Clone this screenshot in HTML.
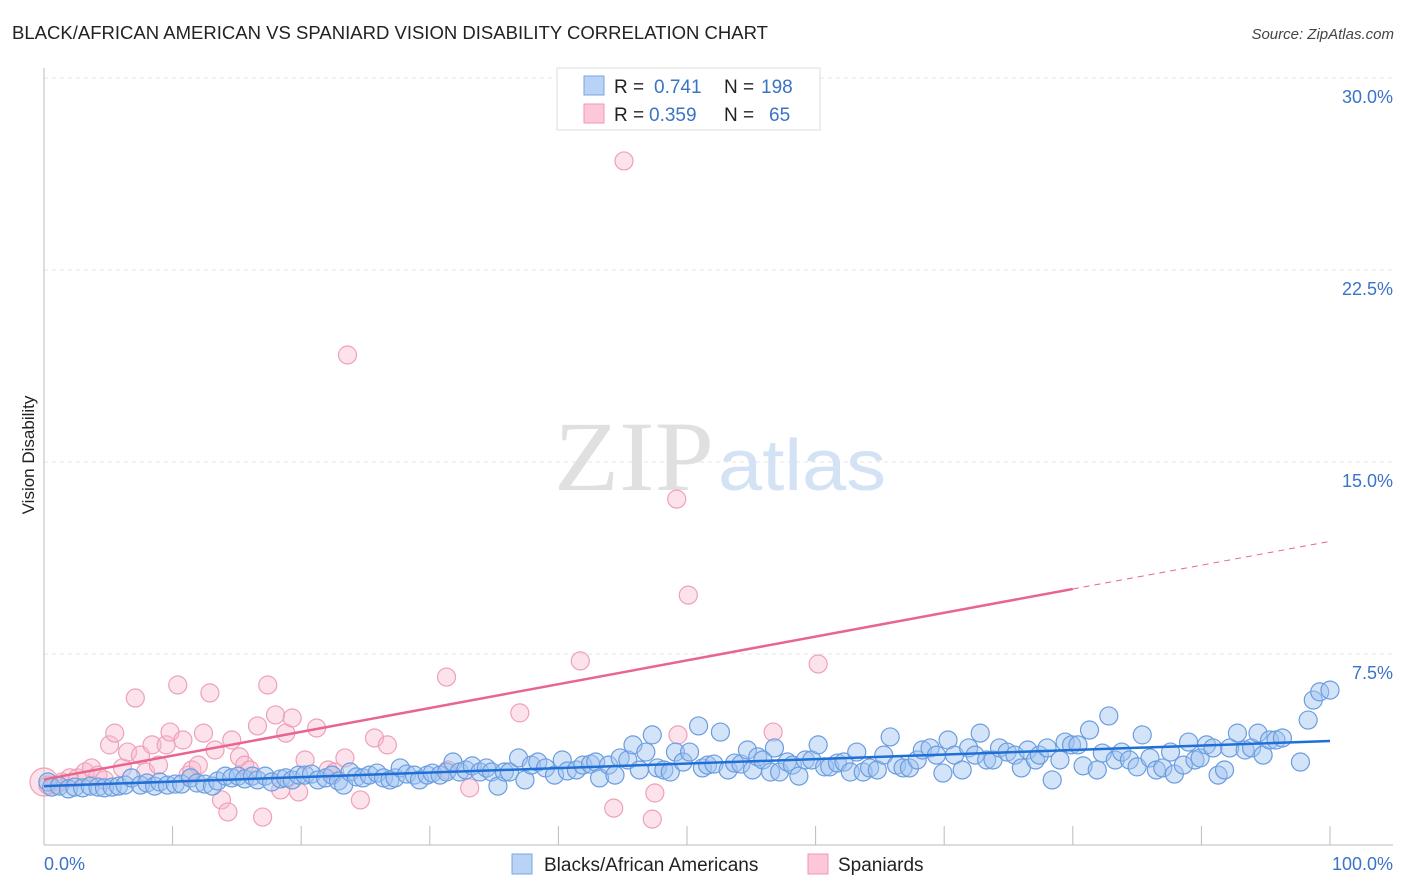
<!DOCTYPE html>
<html><head><meta charset="utf-8"><style>
body{margin:0;background:#fff;font-family:"Liberation Sans",sans-serif;}
svg{display:block}
</style></head><body>
<svg id="chart" width="1406" height="892" viewBox="0 0 1406 892">
<text x="12" y="39" font-size="18" fill="#222" textLength="756" lengthAdjust="spacingAndGlyphs">BLACK/AFRICAN AMERICAN VS SPANIARD VISION DISABILITY CORRELATION CHART</text>
<text x="1394" y="39" font-size="15" fill="#444" font-style="italic" text-anchor="end">Source: ZipAtlas.com</text>
<g id="grid"></g>
<text x="714" y="490" font-size="100" font-family="Liberation Serif,serif" fill="#e0e0e0" text-anchor="end" textLength="160" lengthAdjust="spacingAndGlyphs">ZIP</text>
<text x="718" y="490" font-size="72" fill="#d3e2f4" textLength="168" lengthAdjust="spacingAndGlyphs">atlas</text>
<g id="marks"></g>
<text transform="translate(34,455) rotate(-90)" font-size="17" fill="#222" text-anchor="middle">Vision Disability</text>
<g>
<rect x="557" y="68" width="263" height="62" fill="#fff" stroke="#ddd"/>
<rect x="584" y="76" width="20" height="19" fill="#b8d3f5" stroke="#7aa6e3"/>
<rect x="584" y="104" width="20" height="19" fill="#fcc7d6" stroke="#ef9ab5"/>
<text x="614" y="93" font-size="19" fill="#222">R = <tspan fill="#3a73c8" x="654">0.741</tspan><tspan x="724">N =</tspan><tspan fill="#3a73c8" x="761">198</tspan></text>
<text x="614" y="121" font-size="19" fill="#222">R = <tspan fill="#3a73c8" x="649">0.359</tspan><tspan x="724">N =</tspan><tspan fill="#3a73c8" x="769">65</tspan></text>
</g>
<rect x="512" y="854" width="20" height="20" fill="#b8d3f5" stroke="#7aa6e3"/>
<text x="544" y="871" font-size="19" fill="#222">Blacks/African Americans</text>
<rect x="808" y="854" width="20" height="20" fill="#fcc7d6" stroke="#ef9ab5"/>
<text x="838" y="871" font-size="19" fill="#222">Spaniards</text>
</svg>
<script>
const yTicks=[7.5,15,22.5,30];
const yTickLabels=["7.5%","15.0%","22.5%","30.0%"];
const xTickLabels=["0.0%","100.0%"];
const blueX=[0.3,0.6,1.2,1.9,2.4,3.0,3.6,4.2,4.7,5.3,5.8,6.3,6.8,7.5,8.0,8.6,9.0,9.6,10.2,10.7,11.4,11.9,12.5,13.1,13.5,14.1,14.6,15.1,15.6,16.2,16.6,17.2,17.7,18.4,18.8,19.3,19.8,20.3,20.8,21.3,21.9,22.4,22.9,23.3,23.8,24.3,24.8,25.3,25.9,26.4,26.9,27.3,27.7,28.2,28.8,29.2,29.8,30.2,30.8,31.3,31.8,32.3,32.8,33.3,33.9,34.4,34.8,35.3,35.8,36.2,36.9,37.4,37.9,38.4,39.0,39.7,40.3,40.7,41.4,41.9,42.5,42.9,43.2,43.9,44.4,44.8,45.4,45.8,46.3,46.8,47.3,47.7,48.2,48.7,49.1,49.7,50.2,50.9,51.2,51.6,52.1,52.6,53.2,53.7,54.2,54.7,55.1,55.5,55.9,56.5,56.8,57.2,57.8,58.2,58.7,59.2,59.7,60.2,60.7,61.1,61.7,62.2,62.7,63.2,63.7,64.2,64.8,65.3,65.8,66.3,66.8,67.3,67.9,68.3,68.9,69.4,69.9,70.3,70.8,71.4,71.9,72.4,72.8,73.3,73.8,74.3,74.9,75.5,76.0,76.5,77.1,77.4,78.0,78.4,79.0,79.4,79.9,80.4,80.8,81.3,81.9,82.3,82.8,83.3,83.8,84.4,85.0,85.4,86.0,86.5,87.0,87.6,87.9,88.6,89.0,89.5,89.9,90.4,90.9,91.3,91.8,92.2,92.8,93.4,93.9,94.4,94.8,95.3,95.8,96.3,97.7,98.3,98.7,99.2,100];
const blueY=[2.5,2.3,2.34,2.23,2.3,2.27,2.34,2.3,2.27,2.3,2.34,2.38,2.66,2.38,2.46,2.34,2.5,2.38,2.42,2.42,2.66,2.46,2.42,2.34,2.54,2.73,2.66,2.73,2.62,2.73,2.58,2.73,2.5,2.62,2.66,2.58,2.77,2.77,2.81,2.58,2.66,2.77,2.54,2.38,2.89,2.7,2.66,2.77,2.85,2.66,2.58,2.66,3.05,2.81,2.77,2.58,2.77,2.85,2.77,2.89,3.28,2.89,2.97,3.13,2.89,3.05,2.89,2.34,2.89,2.89,3.44,2.58,3.16,3.28,3.05,2.77,3.36,2.93,2.97,3.16,3.2,3.28,2.66,3.16,2.77,3.44,3.36,3.95,2.97,3.67,4.34,3.05,2.97,2.89,3.67,3.28,3.67,4.69,3.05,3.16,3.2,4.45,2.97,3.24,3.2,3.75,2.97,3.48,3.36,2.89,3.83,2.89,3.28,3.16,2.73,3.36,3.36,3.95,3.09,3.09,3.24,3.28,2.89,3.67,2.89,3.05,2.97,3.55,4.26,3.16,3.05,3.05,3.36,3.75,3.83,3.55,2.85,4.14,3.55,2.97,3.83,3.55,4.41,3.36,3.36,3.83,3.67,3.55,3.05,3.75,3.36,3.55,3.83,2.58,3.36,4.06,3.95,3.95,3.13,4.53,2.97,3.63,5.08,3.36,3.67,3.36,3.09,4.34,3.44,2.97,3.05,3.67,2.81,3.16,4.06,3.36,3.44,3.95,3.83,2.77,2.97,3.83,4.41,3.75,3.83,4.41,3.55,4.14,4.14,4.22,3.28,4.92,5.7,6.02,6.09];
const pinkX=[0,0.3,0.9,1.4,2.0,2.6,3.2,3.7,4.2,4.7,5.1,5.5,6.1,6.5,7.1,7.5,7.9,8.4,8.9,9.5,9.8,10.4,10.8,11.2,11.5,12.0,12.4,12.9,13.3,13.8,14.3,14.6,15.2,15.6,16.0,16.6,17.0,17.4,18.0,18.4,18.8,19.3,19.8,20.3,21.2,22.1,22.6,23.4,23.6,24.6,25.7,26.7,31.3,31.4,33.1,37.0,41.7,44.3,45.1,47.3,47.5,49.2,49.3,50.1,56.7,60.2];
const pinkY=[2.5,2.38,2.38,2.5,2.66,2.66,2.89,3.05,2.77,2.58,3.95,4.41,3.05,3.67,5.78,3.55,2.89,3.95,3.16,3.95,4.45,6.29,4.14,2.77,2.97,3.16,4.41,5.98,3.75,1.8,1.33,4.14,3.48,3.16,2.97,4.69,1.13,6.29,5.12,2.19,4.41,5.0,2.11,3.36,4.61,2.97,2.89,3.44,19.18,1.8,4.22,3.95,6.6,2.97,2.27,5.2,7.23,1.48,26.76,1.05,2.07,13.55,4.34,9.8,4.45,7.11];
const blueTrend=[2.34,4.1];
const pinkTrend=[2.6,11.9];
const pinkSolidEnd=80;

const X0=44,X1=1330,Y0=846,PXV=25.6;
const sx=v=>X0+(X1-X0)*v/100;
const sy=v=>Y0-v*PXV;
const NS="http://www.w3.org/2000/svg";
function mk(tag,attrs,parent){const e=document.createElementNS(NS,tag);for(const k in attrs)e.setAttribute(k,attrs[k]);parent.appendChild(e);return e;}
const grid=document.getElementById('grid'),marks=document.getElementById('marks');
yTicks.forEach((t,i)=>{
 const g=mk('line',{x1:X0,x2:1393,y1:sy(t),y2:sy(t),stroke:'#e4e4e4','stroke-width':1,'stroke-dasharray':'4,4'},grid);
 
 
 const tx=mk('text',{x:1393,y:sy(t)+25,'font-size':18,fill:'#3a73c8','text-anchor':'end'},grid);
 tx.textContent=yTickLabels[i];
 
 
});
const ax=mk('line',{x1:X0,x2:X0,y1:68,y2:845,stroke:'#bbb'},grid);


const bx=mk('line',{x1:X0,x2:1393,y1:845,y2:845,stroke:'#bbb'},grid);


for(let i=1;i<=10;i++){
 const t=mk('line',{x1:sx(i*10),x2:sx(i*10),y1:826,y2:845,stroke:'#bbb'},grid);
 
 
}
[[0,'start',44],[100,'end',1393]].forEach((d,i)=>{
 const t=mk('text',{x:d[2],y:870,'font-size':18,fill:'#3a73c8','text-anchor':d[1]},grid);
 t.textContent=xTickLabels[i];
 
 
});
pinkX.forEach((x,i)=>{
 const c=mk('circle',{cx:sx(x),cy:sy(pinkY[i]),r:i==0?14:9,fill:'rgba(248,185,205,0.4)',stroke:'#efa0b9','stroke-width':1.2},marks);
 
 
});
blueX.forEach((x,i)=>{
 const c=mk('circle',{cx:sx(x),cy:sy(blueY[i]),r:9,fill:'rgba(160,196,240,0.45)',stroke:'#6a9de0','stroke-width':1.2},marks);
 
 
});
const pm=pinkTrend[0]+(pinkTrend[1]-pinkTrend[0])*pinkSolidEnd/100;
const pl=mk('line',{x1:sx(0),y1:sy(pinkTrend[0]),x2:sx(pinkSolidEnd),y2:sy(pm),stroke:'#e8658f','stroke-width':2.5},marks);


const pd=mk('line',{x1:sx(pinkSolidEnd),y1:sy(pm),x2:sx(100),y2:sy(pinkTrend[1]),stroke:'#e8658f','stroke-width':1,'stroke-dasharray':'6,5'},marks);


const bl=mk('line',{x1:sx(0),y1:sy(blueTrend[0]),x2:sx(100),y2:sy(blueTrend[1]),stroke:'#1f6fd6','stroke-width':2.5},marks);


</script>
</body></html>
